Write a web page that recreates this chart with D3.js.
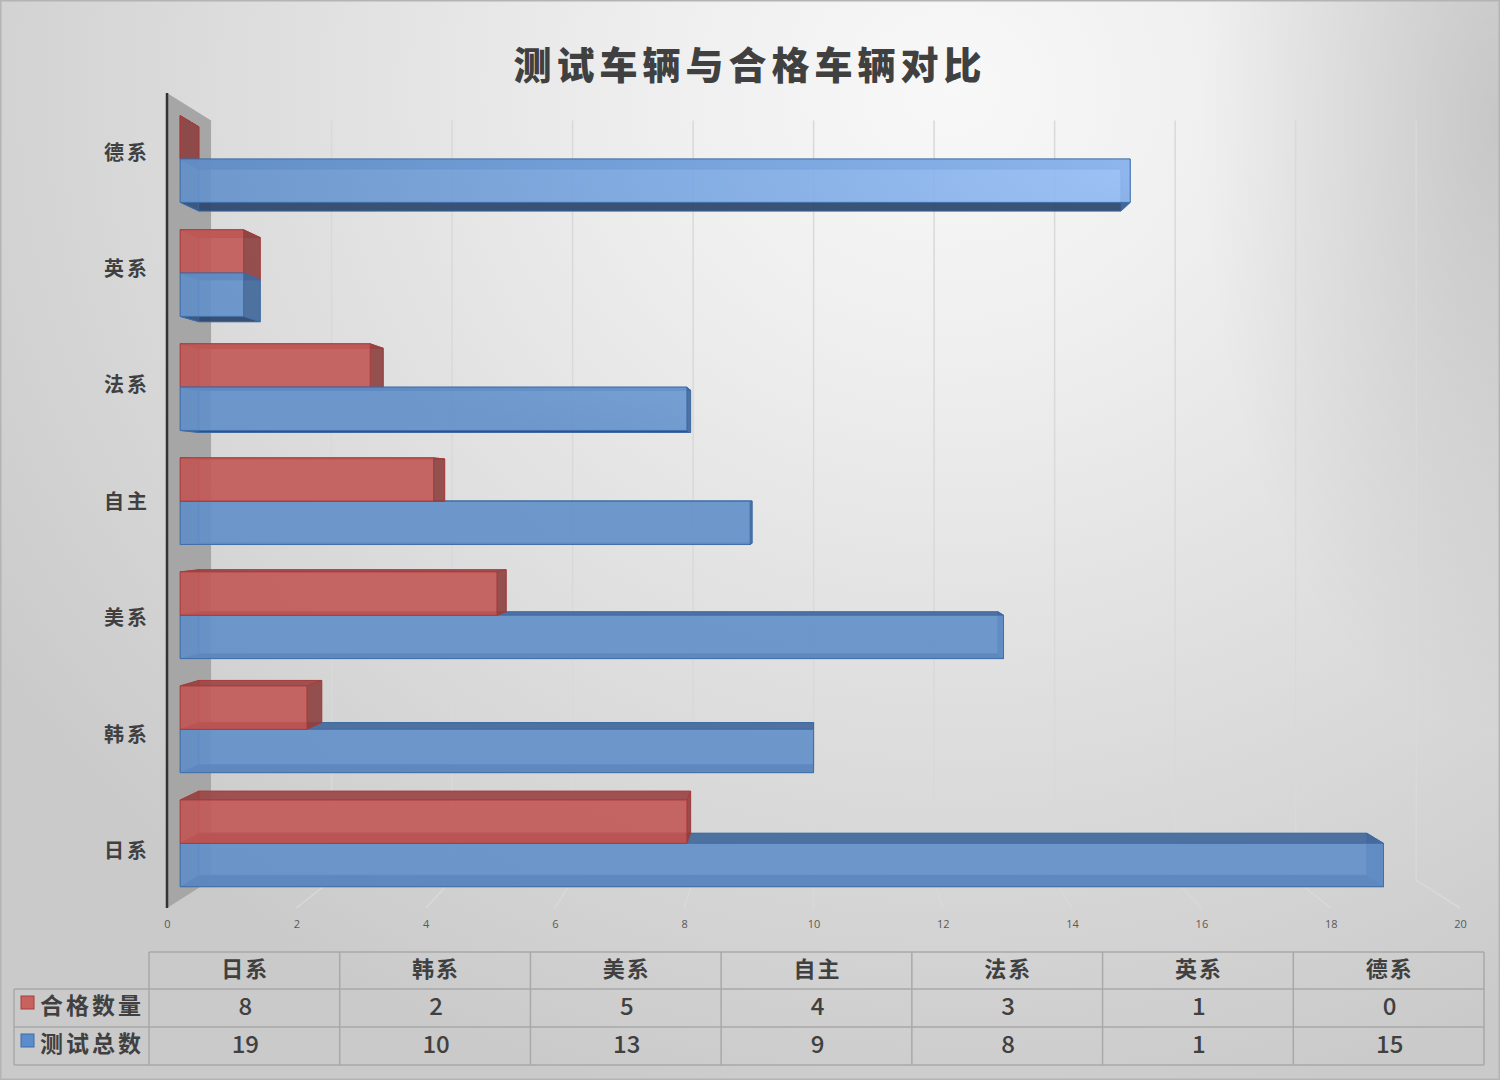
<!DOCTYPE html>
<html>
<head>
<meta charset="utf-8">
<script src="https://cdnjs.cloudflare.com/ajax/libs/d3/7.8.5/d3.min.js"></script>
<style>
  html, body { margin: 0; padding: 0; background: #fff; }
  svg { display: block; }
  text { font-family: "Noto Sans CJK SC", "Noto Sans", sans-serif; fill: #404040; }
</style>
</head>
<body>
<div id="canvas"></div>
<script>
let title = "测试车辆与合格车辆对比";
let categories = ["日系", "韩系", "美系", "自主", "法系", "英系", "德系"];
let seriesNames = ["合格数量", "测试总数"];
let passed = [8, 2, 5, 4, 3, 1, 0];
let total = [19, 10, 13, 9, 8, 1, 15];
let xTicks = [0, 2, 4, 6, 8, 10, 12, 14, 16, 18, 20];

let width = 1500,
  height = 1080;

let svg = d3
  .select("#canvas")
  .append("svg")
  .attr("width", width)
  .attr("height", height);

let defs = svg.append("defs");

// page background: bright spot near the top, grey towards the corners
let bg = defs
  .append("radialGradient")
  .attr("id", "bg")
  .attr("gradientUnits", "userSpaceOnUse")
  .attr("cx", 0)
  .attr("cy", 0)
  .attr("r", 1)
  .attr("gradientTransform", "translate(950,90) scale(1150,1050)");
bg.append("stop").attr("offset", 0).attr("stop-color", "#f8f8f8");
bg.append("stop").attr("offset", 0.25).attr("stop-color", "#efefef");
bg.append("stop").attr("offset", 0.6).attr("stop-color", "#dedede");
bg.append("stop").attr("offset", 1).attr("stop-color", "#cacaca");

// extra falloff only in the upper right corner
let edge = defs
  .append("radialGradient")
  .attr("id", "edge")
  .attr("gradientUnits", "userSpaceOnUse")
  .attr("cx", 0)
  .attr("cy", 0)
  .attr("r", 1)
  .attr("gradientTransform", "translate(1500,120) scale(300,620)");
edge.append("stop").attr("offset", 0).attr("stop-color", "#000").attr("stop-opacity", 0.13);
edge.append("stop").attr("offset", 1).attr("stop-color", "#000").attr("stop-opacity", 0);

// blue front faces get lighter where the background is lightest
let blueFront = defs
  .append("radialGradient")
  .attr("id", "blueFront")
  .attr("gradientUnits", "userSpaceOnUse")
  .attr("cx", 0)
  .attr("cy", 0)
  .attr("r", 1)
  .attr("gradientTransform", "translate(1150,170) scale(1000,330)");
blueFront.append("stop").attr("offset", 0).attr("stop-color", "#98c0f8");
blueFront.append("stop").attr("offset", 0.5).attr("stop-color", "#7aa7e2");
blueFront.append("stop").attr("offset", 1).attr("stop-color", "#6390c9");

svg.append("rect").attr("width", width).attr("height", height).attr("fill", "url(#bg)");
svg.append("rect").attr("width", width).attr("height", height).attr("fill", "url(#edge)");
svg
  .append("rect")
  .attr("x", 0.75)
  .attr("y", 0.75)
  .attr("width", width - 1.5)
  .attr("height", height - 1.5)
  .attr("fill", "none")
  .attr("stroke", "#b4b4b4")
  .attr("stroke-width", 1.5);

svg
  .append("text")
  .attr("x", 750)
  .attr("y", 79)
  .attr("text-anchor", "middle")
  .attr("font-size", 38)
  .attr("font-weight", 900)
  .attr("letter-spacing", 5)
  .text(title);

// scales live on the front plane of the chart box, depth shrinks towards vanishing point
let x = d3.scaleLinear().domain([0, 20]).range([167, 1460]);
let y = d3.scaleBand().domain(categories).range([908, 93]);
let inner = d3
  .scaleBand()
  .domain(seriesNames)
  .range([y.bandwidth() / 2 - 43.5, y.bandwidth() / 2 + 45]);

let vanishX = 815,
  vanishY = 498,
  shrink = 0.068,
  depthFront = 0.3,
  depthBack = 0.72;

let project = (px, py, d) => {
  let s = 1 - shrink * d;
  return [vanishX + (px - vanishX) * s, vanishY + (py - vanishY) * s];
};

let polyLine = d3.line().curve(d3.curveLinearClosed);

// wall on the left
let plotBottom = y.range()[0],
  plotTop = y.range()[1];
svg
  .append("path")
  .attr(
    "d",
    polyLine([
      project(x(0), plotTop, 0),
      project(x(0), plotTop, 1),
      project(x(0), plotBottom, 1),
      project(x(0), plotBottom, 0),
    ])
  )
  .attr("fill", "#a6a6a6");

// grid: back wall plus a short run over the floor
xTicks.slice(1).forEach((t) => {
  svg
    .append("path")
    .attr(
      "d",
      d3.line()([
        project(x(t), plotTop, 1),
        project(x(t), plotBottom, 1),
        project(x(t), plotBottom, 0),
      ])
    )
    .attr("fill", "none")
    .attr("stroke", "#d9d9d9")
    .attr("stroke-width", 1.5);
});

let colors = {
  合格数量: {
    front: "#c25a57",
    stroke: "#a63c3b",
    top: "#9a4646",
    bottom: "#7a3434",
    side: "#8d4444",
    back: "#b85050",
  },
  测试总数: {
    front: "url(#blueFront)",
    stroke: "#3d6ca6",
    top: "#44699a",
    bottom: "#2b4468",
    side: "#44699a",
    back: "#4f81bd",
  },
};

let drawBar = (cat, name, value) => {
  let c = colors[name];
  let x0 = x(0),
    x1 = x(value),
    y0 = y(cat) + inner(name),
    y1 = y0 + inner.bandwidth();

  let f = (px, py) => project(px, py, depthFront);
  let b = (px, py) => project(px, py, depthBack);

  let faces = [
    { pts: [b(x0, y0), b(x1, y0), b(x1, y1), b(x0, y1)], fill: c.back, op: 0.3 },
    { pts: [f(x0, y0), f(x1, y0), b(x1, y0), b(x0, y0)], fill: c.top, op: 0.9 },
    { pts: [f(x0, y1), f(x1, y1), b(x1, y1), b(x0, y1)], fill: c.bottom, op: 0.9 },
    { pts: [f(x0, y0), f(x0, y1), b(x0, y1), b(x0, y0)], fill: c.side, op: 0.4 },
    { pts: [f(x1, y0), f(x1, y1), b(x1, y1), b(x1, y0)], fill: c.side, op: 0.9 },
    { pts: [f(x0, y0), f(x1, y0), f(x1, y1), f(x0, y1)], fill: c.front, op: 0.87 },
  ];

  svg
    .append("g")
    .selectAll("path")
    .data(faces)
    .join("path")
    .attr("d", (d) => polyLine(d.pts))
    .attr("fill", (d) => d.fill)
    .attr("fill-opacity", (d) => d.op)
    .attr("stroke", c.stroke)
    .attr("stroke-width", 1)
    .attr("stroke-opacity", 0.8)
    .attr("stroke-linejoin", "round");
};

categories.forEach((cat, i) => {
  // bars below the vanishing line show their top face, so the upper bar goes last there
  let below = y(cat) + y.bandwidth() / 2 > vanishY;
  if (below) {
    drawBar(cat, seriesNames[1], total[i]);
    drawBar(cat, seriesNames[0], passed[i]);
  } else {
    drawBar(cat, seriesNames[0], passed[i]);
    drawBar(cat, seriesNames[1], total[i]);
  }
});

// category axis line
svg
  .append("line")
  .attr("x1", x(0))
  .attr("x2", x(0))
  .attr("y1", plotTop)
  .attr("y2", plotBottom)
  .attr("stroke", "#333")
  .attr("stroke-width", 2.5);

let yAxis = svg
  .append("g")
  .attr("transform", `translate(${x(0)},2)`)
  .call(d3.axisLeft(y).tickSize(0).tickPadding(17));
yAxis.select(".domain").remove();
yAxis
  .selectAll("text")
  .attr("font-size", 20)
  .attr("font-weight", 700)
  .attr("letter-spacing", 3)
  .style("font-family", '"Noto Sans CJK SC"')
  .style("fill", "#404040");

let xAxis = svg
  .append("g")
  .attr("transform", `translate(0,${plotBottom + 7})`)
  .call(d3.axisBottom(x).tickValues(xTicks).tickSize(0).tickPadding(5));
xAxis.select(".domain").remove();
xAxis
  .selectAll("text")
  .attr("font-size", 11)
  .style("font-family", '"Open Sans"')
  .style("fill", "#595959");

// data table under the chart
let col = d3.scaleBand().domain(categories).range([149, 1484]);
let rowY = [952, 989, 1027, 1065];
let tableLeft = 14;
let tableColor = "#a9a9a9";

let table = svg.append("g").attr("stroke", tableColor).attr("stroke-width", 1.5);
table
  .selectAll(".h")
  .data(rowY)
  .join("line")
  .attr("x1", (d, i) => (i === 0 ? col.range()[0] : tableLeft))
  .attr("x2", col.range()[1])
  .attr("y1", (d) => d)
  .attr("y2", (d) => d);
table
  .selectAll(".v")
  .data(categories.concat(["end"]))
  .join("line")
  .attr("x1", (d) => (d === "end" ? col.range()[1] : col(d)))
  .attr("x2", (d) => (d === "end" ? col.range()[1] : col(d)))
  .attr("y1", rowY[0])
  .attr("y2", rowY[3]);
table
  .append("line")
  .attr("x1", tableLeft)
  .attr("x2", tableLeft)
  .attr("y1", rowY[1])
  .attr("y2", rowY[3]);

let cellMid = (r) => (rowY[r] + rowY[r + 1]) / 2;

svg
  .append("g")
  .selectAll("text")
  .data(categories)
  .join("text")
  .attr("x", (d) => col(d) + col.bandwidth() / 2 + 1)
  .attr("y", cellMid(0) - 1)
  .attr("dy", "0.36em")
  .attr("text-anchor", "middle")
  .attr("font-size", 22)
  .attr("font-weight", 700)
  .attr("letter-spacing", 2)
  .text((d) => d);

[passed, total].forEach((vals, r) => {
  svg
    .append("g")
    .selectAll("text")
    .data(vals)
    .join("text")
    .attr("x", (d, i) => col(categories[i]) + col.bandwidth() / 2 + 1)
    .attr("y", cellMid(r + 1) - 2)
    .attr("dy", "0.36em")
    .attr("text-anchor", "middle")
    .attr("font-size", 24)
    .attr("font-weight", 500)
    .text((d) => d);
});

// legend keys in the first column
let swatch = { 合格数量: ["#c8625f", "#a63c3b"], 测试总数: ["#5b8ccb", "#3d6ca6"] };
seriesNames.forEach((name, r) => {
  svg
    .append("rect")
    .attr("x", 21)
    .attr("y", cellMid(r + 1) - 12)
    .attr("width", 13)
    .attr("height", 13)
    .attr("fill", swatch[name][0])
    .attr("stroke", swatch[name][1]);
  svg
    .append("text")
    .attr("x", 40)
    .attr("y", cellMid(r + 1) - 2)
    .attr("dy", "0.36em")
    .attr("font-size", 23)
    .attr("font-weight", 700)
    .attr("letter-spacing", 3)
    .text(name);
});
</script>
</body>
</html>
